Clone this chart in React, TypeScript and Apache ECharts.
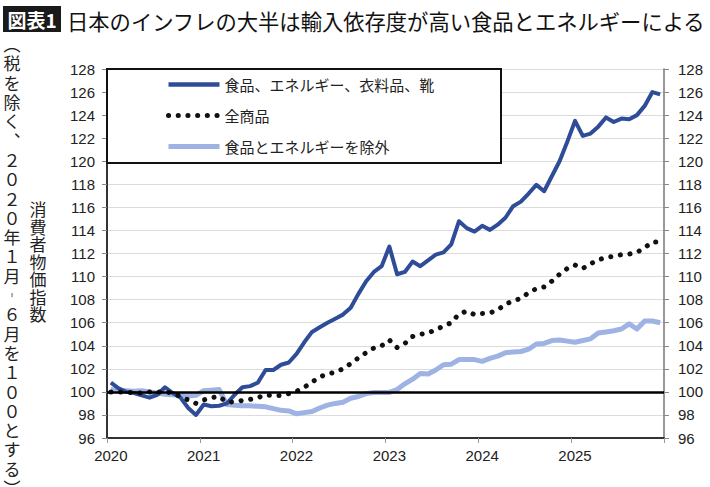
import React, { useEffect, useRef } from "react";
import * as echarts from "echarts";

const years = ["2020", "2021", "2022", "2023", "2024", "2025"];
const monthNums = ["01", "02", "03", "04", "05", "06", "07", "08", "09", "10", "11", "12"];
const months: string[] = years.flatMap((y) => monthNums.map((m) => `${y}-${m}`));

const yTicks = { min: 96, max: 128, step: 2 };
const baseLine = 100;

const seriesNames = ["食品、エネルギー、衣料品、靴", "全商品", "食品とエネルギーを除外"];

// 食品、エネルギー、衣料品、靴
const foodEnergyClothing = [
  100.8, 100.3, 100.0, 99.9, 99.7, 99.5, 99.75, 100.4, 99.9, 99.5, 98.6, 98.0,
  98.9, 98.75, 98.8, 99.0, 99.75, 100.4, 100.5, 100.8, 101.9, 101.9, 102.35, 102.55,
  103.3, 104.3, 105.2, 105.6, 106.0, 106.35, 106.7, 107.3, 108.5, 109.6, 110.4, 110.9,
  112.6, 110.2, 110.4, 111.3, 110.9, 111.4, 111.9, 112.1, 112.8, 114.8, 114.2, 113.9,
  114.4, 114.05, 114.5, 115.1, 116.1, 116.5, 117.2, 117.95, 117.4, 118.7, 120.0, 121.7,
  123.5, 122.2, 122.4, 123.0, 123.8, 123.4, 123.7, 123.65, 124.0, 124.8, 126.0, 125.8,
];

// 全商品
const allItems = [
  100.0, 100.0, 100.0, 99.9, 99.9, 100.0, 100.0, 100.0, 99.9, 99.6, 99.3, 99.0,
  99.3, 99.5, 99.6, 99.1, 99.15, 99.25, 99.35, 99.5, 99.75, 99.65, 99.7, 99.85,
  100.05, 100.4, 100.85, 101.3, 101.55, 101.7, 102.0, 102.45, 102.95, 103.4, 103.8, 104.0,
  104.5, 103.85, 104.2, 104.8, 105.0, 105.1, 105.4, 105.7, 106.0, 106.75, 107.0, 106.7,
  106.8, 106.85, 107.1, 107.6, 107.9, 108.1, 108.6, 108.95, 109.1, 109.6, 110.2, 110.7,
  111.0, 110.7, 111.1, 111.45, 111.65, 111.75, 111.9, 111.95, 112.1, 112.5, 113.0, 113.0,
];

// 食品とエネルギーを除外
const exFoodEnergy = [
  100.2, 100.1, 100.1, 100.05, 100.1, 100.0, 99.9, 99.8, 99.75, 99.7, 99.65, 99.7,
  100.1, 100.15, 100.2, 98.9, 98.85, 98.8, 98.8, 98.75, 98.7, 98.55, 98.4, 98.35,
  98.1, 98.2, 98.3, 98.6, 98.85, 99.0, 99.1, 99.45, 99.6, 99.85, 99.95, 99.95,
  99.95, 100.2, 100.7, 101.1, 101.6, 101.55, 101.9, 102.35, 102.4, 102.8, 102.8, 102.8,
  102.65, 102.9, 103.1, 103.4, 103.45, 103.5, 103.7, 104.15, 104.2, 104.45, 104.5, 104.4,
  104.3, 104.45, 104.6, 105.1, 105.2, 105.3, 105.45, 105.9, 105.45, 106.15, 106.15, 106.0,
];

const titleBadge = "図表1";
const titleText = "日本のインフレの大半は輸入依存度が高い食品とエネルギーによる";
const unitNote = "︵税を除く︑２０２０年１月︲６月を１００とする︶";
const axisName = "消費者物価指数";

const CJK = '"Noto Sans CJK JP", "Noto Sans", sans-serif';
const LATIN = '"Liberation Sans", Arial, sans-serif';

const COLORS = { blue: "#2E4C97", black: "#111111", light: "#9EB2E4" };
const DOTS = [0.1, 9.6];

export default function App() {
  const ref = useRef<HTMLDivElement>(null);

  useEffect(() => {
    if (!ref.current) return;
    const chart = echarts.init(ref.current, undefined, { renderer: "svg" });
    const yAxisCommon = {
      type: "value" as const,
      min: yTicks.min,
      max: yTicks.max,
      interval: yTicks.step,
      axisLabel: { fontSize: 15, color: "#222", fontFamily: LATIN },
      axisTick: { show: true, length: 5, lineStyle: { color: "#888" } },
    };
    chart.setOption({
      animation: false,
      backgroundColor: "#ffffff",
      title: {
        text: titleText,
        left: 62,
        top: 5,
        textStyle: { fontSize: 21.3, fontWeight: "normal", color: "#111", fontFamily: CJK },
      },
      grid: { left: 107, right: 46, top: 69, bottom: 49, containLabel: false },
      legend: {
        orient: "vertical",
        left: 161,
        top: 72,
        itemWidth: 51,
        itemHeight: 14,
        itemGap: 16,
        data: [
          { name: seriesNames[0], lineStyle: { width: 4.5, color: COLORS.blue } },
          { name: seriesNames[1], lineStyle: { width: 5, color: COLORS.black, type: DOTS, cap: "round" } },
          { name: seriesNames[2], lineStyle: { width: 5, color: COLORS.light } },
        ],
        itemStyle: { opacity: 0 },
        textStyle: { fontSize: 15, color: "#222", fontFamily: CJK },
        z: 6,
      },
      xAxis: {
        type: "category",
        data: months,
        boundaryGap: true,
        axisLine: { onZero: false, lineStyle: { color: "#333", width: 2 } },
        axisTick: {
          show: true,
          length: 5,
          interval: (i: number) => i % 12 === 0,
          lineStyle: { color: "#999" },
        },
        axisLabel: {
          interval: (i: number) => i % 12 === 0,
          formatter: (v: string) => v.slice(0, 4),
          fontSize: 15,
          color: "#222",
          fontFamily: LATIN,
          margin: 10,
        },
        splitLine: { show: false },
      },
      yAxis: [
        {
          ...yAxisCommon,
          position: "left",
          axisLine: { show: true, lineStyle: { color: "#333", width: 2 } },
          axisLabel: { ...yAxisCommon.axisLabel, margin: 12 },
          splitLine: { show: true, lineStyle: { color: "#dcdcdc", width: 1 } },
        },
        {
          ...yAxisCommon,
          position: "right",
          axisLine: { show: true, lineStyle: { color: "#777", width: 1.5 } },
          axisLabel: { ...yAxisCommon.axisLabel, margin: 14 },
          splitLine: { show: false },
        },
      ],
      series: [
        {
          name: seriesNames[2],
          type: "line",
          data: exFoodEnergy,
          symbol: "none",
          lineStyle: { color: COLORS.light, width: 5, join: "round" },
          itemStyle: { color: COLORS.light },
          markLine: {
            silent: true,
            symbol: "none",
            label: { show: false },
            lineStyle: { color: "#000", width: 2.5, type: "solid" },
            data: [{ yAxis: baseLine }],
          },
        },
        {
          name: seriesNames[0],
          type: "line",
          data: foodEnergyClothing,
          symbol: "none",
          lineStyle: { color: COLORS.blue, width: 4, join: "round" },
          itemStyle: { color: COLORS.blue },
        },
        {
          name: seriesNames[1],
          type: "line",
          data: allItems,
          symbol: "none",
          lineStyle: { color: COLORS.black, width: 5, type: DOTS, cap: "round" },
          itemStyle: { color: COLORS.black },
        },
      ],
      graphic: [
        {
          type: "rect",
          z: 5,
          shape: { x: 107, y: 69, width: 394, height: 94 },
          style: { fill: "#ffffff", stroke: "#111", lineWidth: 2 },
        },
        {
          type: "rect",
          shape: { x: 3, y: 6, width: 58, height: 26 },
          style: { fill: "#1a1a1a" },
        },
        {
          type: "text",
          x: 32,
          y: 19,
          style: {
            text: titleBadge,
            fill: "#fff",
            fontSize: 19,
            fontWeight: "bold",
            fontFamily: CJK,
            align: "center",
            verticalAlign: "middle",
          },
        },
        {
          type: "text",
          x: 12,
          y: 34,
          style: {
            text: unitNote.split("").join("\n"),
            fill: "#222",
            fontSize: 17,
            lineHeight: 19.3,
            fontFamily: CJK,
            align: "center",
            verticalAlign: "top",
          },
        },
        {
          type: "text",
          x: 38,
          y: 200,
          style: {
            text: axisName.split("").join("\n"),
            fill: "#222",
            fontSize: 17,
            lineHeight: 17.5,
            fontFamily: CJK,
            align: "center",
            verticalAlign: "top",
          },
        },
      ],
    });
    return () => chart.dispose();
  }, []);

  return (
    <div
      ref={ref}
      style={{ position: "fixed", left: 0, top: 0, width: 710, height: 487, background: "#fff" }}
    />
  );
}
